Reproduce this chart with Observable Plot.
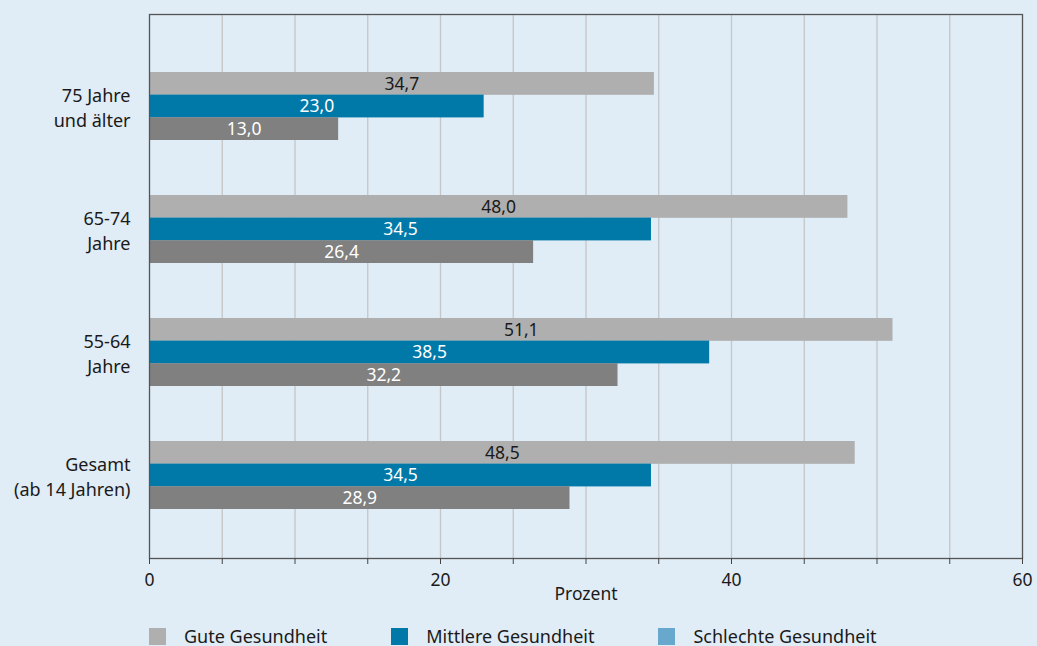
<!DOCTYPE html>
<html>
<head>
<meta charset="utf-8">
<script src="https://cdn.jsdelivr.net/npm/d3@7"></script>
<script src="https://cdn.jsdelivr.net/npm/@observablehq/plot@0.6"></script>
<style>
  html, body { margin: 0; padding: 0; background: #e0ecf6; }
  body { width: 1037px; height: 646px; overflow: hidden; font-family: "Noto Sans", sans-serif; color: #1a1a1a; }
  #legend { display: flex; align-items: center; padding-left: 149px; margin-top: 14px; font-size: 18px; line-height: 20px; }
  .item { display: flex; align-items: center; margin-right: 64px; }
  .sw { width: 17px; height: 17px; margin-right: 18px; }
</style>
</head>
<body>
<div id="chart"></div>
<div id="legend"></div>
<script>
const groups = ["75 Jahre und älter", "65-74 Jahre", "55-64 Jahre", "Gesamt (ab 14 Jahren)"];
const groupLabels = ["75 Jahre\nund älter", "65-74\nJahre", "55-64\nJahre", "Gesamt\n(ab 14 Jahren)"];
const series = ["Gute Gesundheit", "Mittlere Gesundheit", "Schlechte Gesundheit"];
const gute = [34.7, 48.0, 51.1, 48.5];
const mittlere = [23.0, 34.5, 38.5, 34.5];
const schlechte = [13.0, 26.4, 32.2, 28.9];
const xTicks = [0, 5, 10, 15, 20, 25, 30, 35, 40, 45, 50, 55, 60];
const xTickLabels = [0, 20, 40, 60];

const barColors = ["#afafaf", "#0079a8", "#808080"];
const legendColors = ["#afafaf", "#0079a8", "#68a8cc"];
const labelColors = ["#1a1a1a", "#ffffff", "#ffffff"];

const values = [gute, mittlere, schlechte];
const rows = [];
series.forEach((s, k) => groups.forEach((g, i) => rows.push({group: g, series: s, k, value: values[k][i]})));

const third = 22.6;
const fmt = v => v.toFixed(1).replace(".", ",");

const marks = [
  Plot.gridX({ticks: xTicks.slice(1, -1), stroke: "#c6c6c6", strokeOpacity: 1, strokeWidth: 1.3}),
];
series.forEach((s, k) => {
  const d = rows.filter(r => r.k === k);
  marks.push(Plot.barX(d, {x: "value", y: "group", fill: barColors[k], insetTop: k * third, insetBottom: (2 - k) * third}));
});
series.forEach((s, k) => {
  const d = rows.filter(r => r.k === k);
  marks.push(Plot.text(d, {x: r => r.value / 2, y: "group", dy: (k - 1) * third, text: r => fmt(r.value), fill: labelColors[k], fontSize: 17.5}));
});
marks.push(Plot.frame({stroke: "#555", strokeWidth: 1.3}));
marks.push(Plot.axisX({ticks: xTicks, tickSize: 6, tickPadding: 9, stroke: "#444", fontSize: 17.5,
  tickFormat: d => xTickLabels.includes(d) ? String(d) : "",
  label: "Prozent", labelAnchor: "center", labelOffset: 41, labelArrow: "none"}));
marks.push(Plot.axisY({tickSize: 0, tickPadding: 19, fontSize: 18, lineHeight: 1.4,
  tickFormat: g => groupLabels[groups.indexOf(g)], label: null}));

const chart = Plot.plot({
  width: 1037,
  height: 612,
  marginTop: 14,
  marginBottom: 54,
  marginLeft: 149,
  marginRight: 15,
  x: {domain: [0, 60]},
  y: {type: "band", domain: groups, paddingInner: 0.45, paddingOuter: 0.43, align: 0.54},
  style: {background: "transparent", fontFamily: "Noto Sans, sans-serif", fontSize: "17px", color: "#1a1a1a", overflow: "visible"},
  marks
});
document.getElementById("chart").append(chart);

const legend = document.getElementById("legend");
series.forEach((s, k) => {
  const it = document.createElement("div");
  it.className = "item";
  const sw = document.createElement("div");
  sw.className = "sw";
  sw.style.background = legendColors[k];
  const t = document.createElement("span");
  t.textContent = s;
  it.append(sw, t);
  legend.append(it);
});
</script>
</body>
</html>
